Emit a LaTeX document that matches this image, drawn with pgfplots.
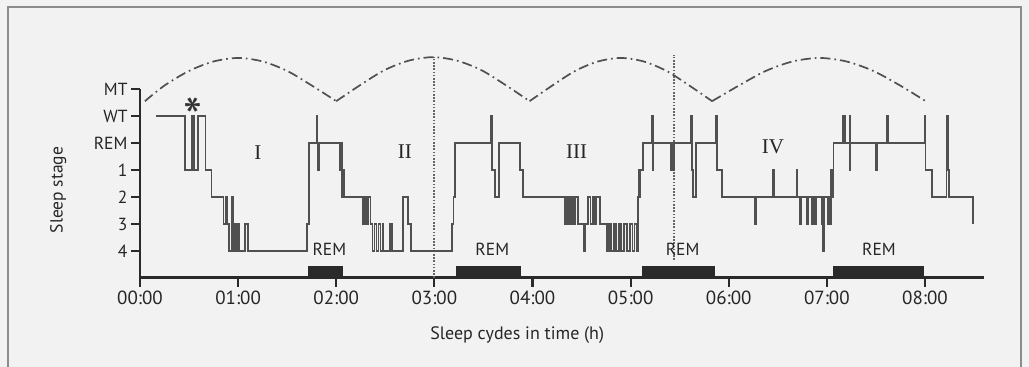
\documentclass[border=0pt]{standalone}
\usepackage{fontspec}
\setmainfont{PT Sans}
\newfontfamily\romanfont{Liberation Serif}
\usepackage{pgfplots}
\pgfplotsset{compat=1.18}
\definecolor{trace}{HTML}{505050}
\definecolor{axisc}{HTML}{2A2A2A}
\definecolor{arcc}{HTML}{505050}
\begin{document}
\begin{tikzpicture}[x=1pt,y=1pt]
\useasboundingbox (0,0) rectangle (1029,367);
\fill[black!5] (0,0) rectangle (1029,367);
\draw[black!45, line width=2pt] (8,-5) -- (8,360) -- (1021,360) -- (1021,-5);
\begin{axis}[
  at={(140pt,89pt)}, anchor=south west,
  scale only axis, width=843.9pt, height=189pt,
  xmin=0, xmax=8.6, ymin=-1, ymax=6,
  clip=false,
  axis x line=bottom, axis y line=left,
  x axis line style={-, line width=3pt, axisc},
  y axis line style={-, line width=2.4pt, axisc},
  xtick={0,1,2,3,4,5,6,7,8},
  xticklabels={00:00,01:00,02:00,03:00,04:00,05:00,06:00,07:00,08:00},
  ytick={0,1,2,3,4,5,6},
  yticklabels={4,3,2,1,REM,WT,MT},
  tick align=outside, major tick length=9pt,
  tick style={line width=2.2pt, axisc},
  xticklabel style={font=\fontsize{19}{22}\selectfont, text=black!85},
  yticklabel style={font=\fontsize{17.5}{20}\selectfont, text=black!85},
  xlabel={Sleep cydes in time (h)},
  ylabel={Sleep stage},
  xlabel style={font=\fontsize{18}{21}\selectfont, text=black!85, at={(axis description cs:0.447,-0.30)}, anchor=center},
  ylabel style={font=\fontsize{17.5}{21}\selectfont, text=black!85, at={(axis description cs:-0.097,0.466)}, anchor=center, rotate=0},
]
% REM bars
\addplot[fill=axisc, draw=none] coordinates {(1.71,-1) (2.07,-1) (2.07,-0.55) (1.71,-0.55)} -- cycle;
\addplot[fill=axisc, draw=none] coordinates {(3.22,-1) (3.88,-1) (3.88,-0.55) (3.22,-0.55)} -- cycle;
\addplot[fill=axisc, draw=none] coordinates {(5.12,-1) (5.86,-1) (5.86,-0.55) (5.12,-0.55)} -- cycle;
\addplot[fill=axisc, draw=none] coordinates {(7.06,-1) (7.99,-1) (7.99,-0.55) (7.06,-0.55)} -- cycle;
% dotted verticals
\addplot[black!60, line width=1.8pt, dash pattern=on 1.6pt off 1.6pt] coordinates {(3.0,-1) (3.0,7.18)};
\addplot[black!60, line width=1.8pt, dash pattern=on 1.6pt off 1.6pt] coordinates {(5.44,-0.33) (5.44,7.26)};
% arcs
\addplot[arcc, line width=1.7pt, smooth, dash pattern=on 10pt off 4pt on 1.7pt off 4pt] coordinates {
(0.05,5.55) (0.25,6.13) (0.5,6.67) (0.75,7.02) (1.0,7.15) (1.25,7.02) (1.5,6.67) (1.75,6.13) (2.0,5.55)};
\addplot[arcc, line width=1.7pt, smooth, dash pattern=on 10pt off 4pt on 1.7pt off 4pt] coordinates {
(2.0,5.55) (2.246,6.15) (2.4925,6.7) (2.739,7.05) (2.985,7.18) (3.231,7.05) (3.478,6.7) (3.724,6.15) (3.97,5.55)};
\addplot[arcc, line width=1.7pt, smooth, dash pattern=on 10pt off 4pt on 1.7pt off 4pt] coordinates {
(3.97,5.55) (4.2025,6.13) (4.435,6.67) (4.6675,7.02) (4.90,7.15) (5.1325,7.02) (5.365,6.67) (5.5975,6.13) (5.83,5.55)};
\addplot[arcc, line width=1.7pt, smooth, dash pattern=on 10pt off 4pt on 1.7pt off 4pt] coordinates {
(5.83,5.55) (6.104,6.13) (6.3775,6.67) (6.651,7.02) (6.925,7.15) (7.199,7.02) (7.4725,6.67) (7.746,6.13) (8.02,5.52)};
% hypnogram
\addplot[trace, line width=1.7pt, const plot] coordinates {
(0.163,5) (0.459,3) (0.527,5) (0.550,3) (0.594,5) (0.669,3) (0.73,2)
(0.85,1) (0.87,2) (0.89,1) (0.907,0) (0.934,2) (0.951,0) (0.961,1) (0.970,0) (0.980,1) (0.990,0) (1.000,1) (1.012,0)
(1.07,1) (1.104,0) (1.702,1) (1.722,4)
(1.80,5) (1.81,3) (1.825,4)
(2.04,3) (2.05,4) (2.06,2) (2.07,3) (2.08,2)
(2.27,1) (2.29,2) (2.31,1) (2.33,2) (2.35,1)
(2.37,0) (2.39,1) (2.41,0) (2.43,1) (2.45,0) (2.47,1) (2.48,0)
(2.55,1) (2.565,0) (2.68,2) (2.73,1) (2.76,0)
(3.18,1) (3.195,2) (3.21,4)
(3.58,5) (3.59,3) (3.615,2) (3.66,4)
(3.87,3) (3.90,2)
(4.33,1) (4.35,2) (4.37,1) (4.39,2) (4.41,1) (4.43,2) (4.46,1)
(4.52,0) (4.535,1) (4.566,2) (4.59,1) (4.61,2) (4.63,1) (4.65,2) (4.69,1)
(4.756,0) (4.78,1) (4.80,0) (4.83,1) (4.85,0) (4.88,1) (4.90,0) (4.93,1) (4.96,0) (4.99,1) (5.02,0) (5.04,1) (5.06,0)
(5.075,2) (5.08,3) (5.09,2) (5.10,3) (5.126,4)
(5.22,5) (5.225,3) (5.23,4)
(5.41,3) (5.42,4) (5.43,3) (5.44,4)
(5.61,5) (5.625,3) (5.635,2) (5.665,4)
(5.87,5) (5.88,3) (5.93,2)
(6.27,1) (6.28,2) (6.45,3) (6.46,2) (6.69,3) (6.70,2)
(6.726,1) (6.736,2) (6.794,1) (6.804,2) (6.845,1) (6.855,2) (6.879,1) (6.889,2) (6.947,1) (6.957,2) (6.963,0) (6.973,2)
(7.01,1) (7.02,2) (7.03,1) (7.04,3) (7.05,2) (7.06,3) (7.066,4)
(7.16,5) (7.175,4) (7.18,5) (7.19,4)
(7.23,5) (7.235,3) (7.24,4)
(7.50,3) (7.51,4) (7.61,5) (7.62,4)
(8.00,5) (8.005,3) (8.07,2)
(8.22,5) (8.235,3) (8.245,2) (8.49,1)};
% labels
\node[font=\fontsize{17.5}{20}\selectfont, text=black!85] at (axis cs:1.93,0.05) {REM};
\node[font=\fontsize{17.5}{20}\selectfont, text=black!85] at (axis cs:3.59,0.05) {REM};
\node[font=\fontsize{17.5}{20}\selectfont, text=black!85] at (axis cs:5.53,0.05) {REM};
\node[font=\fontsize{17.5}{20}\selectfont, text=black!85] at (axis cs:7.53,0.05) {REM};
\node[font=\romanfont\fontsize{21}{24}\selectfont, text=black!85] at (axis cs:1.20,3.63) {I};
\node[font=\romanfont\fontsize{21}{24}\selectfont, text=black!85] at (axis cs:2.70,3.67) {II};
\node[font=\romanfont\fontsize{21}{24}\selectfont, text=black!85] at (axis cs:4.45,3.67) {III};
\node[font=\romanfont\fontsize{21}{24}\selectfont, text=black!85] at (axis cs:6.45,3.85) {IV};
\node[font=\fontsize{54}{56}\selectfont, text=black!80] at (axis cs:0.54,4.94) {*};
\end{axis}
\end{tikzpicture}
\end{document}
